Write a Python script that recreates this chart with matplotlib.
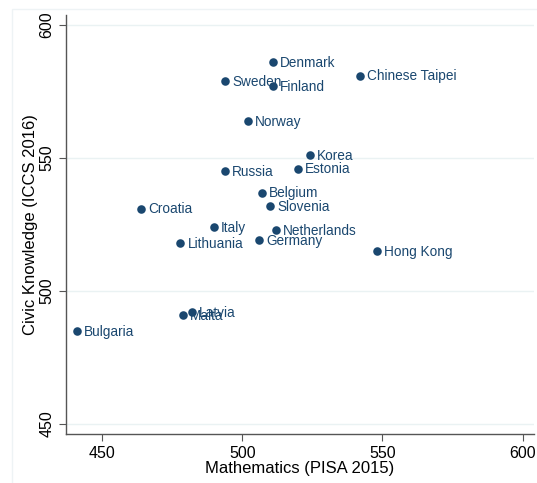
import matplotlib.pyplot as plt
from matplotlib.patches import Rectangle

plt.rcParams['font.family'] = ['Liberation Sans', 'DejaVu Sans']

countries = ['Denmark', 'Chinese Taipei', 'Sweden', 'Finland', 'Norway',
             'Korea', 'Estonia', 'Russia', 'Belgium', 'Slovenia', 'Croatia',
             'Italy', 'Netherlands', 'Lithuania', 'Germany', 'Hong Kong',
             'Latvia', 'Malta', 'Bulgaria']
math_pisa = [511, 542, 494, 511, 502, 524, 520, 494, 507, 510, 464,
             490, 512, 478, 506, 548, 482, 479, 441]
civic_iccs = [586, 581, 579, 577, 564, 551, 546, 545, 537, 532, 531,
              524, 523, 518, 519, 515, 492, 491, 485]

navy = '#1a476f'

fig = plt.figure(figsize=(5.37, 4.83), dpi=100)
fig.patches.append(Rectangle((12 / 537, -0.01), 1.0, 1 - 9 / 483 + 0.01,
                             transform=fig.transFigure, fill=False,
                             edgecolor='#eef3f5', linewidth=1))
ax = fig.add_axes([66 / 537, 1 - 434 / 483, (534 - 66) / 537, (434 - 15) / 483])

ax.scatter(math_pisa, civic_iccs, s=38, color=navy, zorder=3, linewidths=0)
for name, x, y in zip(countries, math_pisa, civic_iccs):
    ax.annotate(name, (x, y), xytext=(5, -0.5), textcoords='offset points',
                va='center', ha='left', fontsize=9.8, color=navy)

ax.set_xlim(437.2, 604)
ax.set_ylim(446.2, 603.8)
ax.set_xticks([450, 500, 550, 600])
ax.set_yticks([450, 500, 550, 600])
ax.set_yticklabels(['450', '500', '550', '600'], rotation=90, va='center')
ax.yaxis.grid(True, color='#eaf2f3', linewidth=1)
ax.set_axisbelow(True)

for side in ['top', 'right']:
    ax.spines[side].set_visible(False)
for side in ['left', 'bottom']:
    ax.spines[side].set_color('#555555')
    ax.spines[side].set_linewidth(1)
ax.tick_params(direction='out', length=5, color='#555555', labelsize=11.5,
               labelcolor='black')

ax.set_xlabel('Mathematics (PISA 2015)', fontsize=12, labelpad=0)
ax.set_ylabel('Civic Knowledge (ICCS 2016)', fontsize=12, labelpad=1)

plt.savefig('out.png', dpi=100)
